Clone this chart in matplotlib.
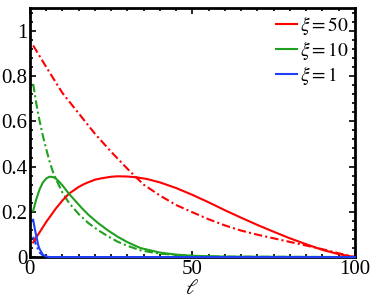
import matplotlib
matplotlib.use("Agg")
import matplotlib.pyplot as plt
from matplotlib.ticker import MultipleLocator

plt.rcParams['font.family'] = ['Liberation Serif', 'DejaVu Serif']
plt.rcParams['mathtext.fontset'] = 'stix'

# xi = 50
x_r = [1, 2, 3, 5, 8, 10, 12, 15, 17, 20, 22, 25, 27, 30, 33, 36, 40, 45, 50, 55, 60, 65, 70, 75, 80, 85, 90, 95, 100]
y_r = [0.065, 0.088, 0.11, 0.155, 0.215, 0.25, 0.28, 0.31, 0.325, 0.342, 0.348, 0.355, 0.357, 0.356, 0.352, 0.345, 0.33, 0.305, 0.275, 0.242, 0.207, 0.174, 0.142, 0.112, 0.083, 0.057, 0.032, 0.013, 0.0]
x_rd = [1, 5, 10, 15, 20, 25, 30, 35, 40, 45, 50, 55, 60, 65, 70, 75, 80, 85, 90, 95, 100]
y_rd = [0.935, 0.84, 0.725, 0.635, 0.545, 0.465, 0.39, 0.32, 0.272, 0.23, 0.198, 0.167, 0.14, 0.117, 0.099, 0.083, 0.067, 0.051, 0.035, 0.017, 0.0]
# xi = 10
x_g = [1, 2, 3, 4, 5, 6, 7, 8, 9, 10, 12, 14, 16, 18, 21, 24, 27, 30, 34, 40, 45, 50, 60, 100]
y_g = [0.205, 0.258, 0.30, 0.33, 0.347, 0.355, 0.354, 0.347, 0.333, 0.317, 0.28, 0.248, 0.216, 0.187, 0.15, 0.118, 0.09, 0.066, 0.04, 0.02, 0.011, 0.006, 0.002, 0.0]
x_gd = [1, 2, 3, 4, 5, 6, 7, 8, 10, 12, 15, 18, 21, 24, 27, 30, 34, 40, 50, 60, 100]
y_gd = [0.765, 0.675, 0.60, 0.535, 0.478, 0.425, 0.38, 0.345, 0.285, 0.24, 0.19, 0.15, 0.119, 0.092, 0.068, 0.05, 0.03, 0.015, 0.005, 0.002, 0.0]
# xi = 1
x_b = [1, 1.5, 2, 2.6, 3, 4, 5, 6, 100]
y_b = [0.165, 0.125, 0.09, 0.05, 0.035, 0.01, 0.003, 0.0, 0.0]
x_bd = [1, 2, 3, 4, 5, 6, 100]
y_bd = [0.09, 0.05, 0.02, 0.007, 0.002, 0.0, 0.0]

labels = [r'$\xi=50$', r'$\xi=10$', r'$\xi=1$']
red, green, blue = '#ff0000', '#1fa01f', '#1f3fff'

fig = plt.figure(figsize=(3.74, 3.0), dpi=100)
ax = fig.add_axes([0.080, 0.143, 0.869, 0.830])

lw = 1.5
dd = (4, 1.5, 1, 1.5)
ax.plot(x_rd, y_rd, color=red, lw=lw, dashes=dd)
ax.plot(x_gd, y_gd, color=green, lw=lw, dashes=dd)
ax.plot(x_bd, y_bd, color=blue, lw=lw, dashes=dd)
l1, = ax.plot(x_r, y_r, color=red, lw=lw)
l2, = ax.plot(x_g, y_g, color=green, lw=lw)
l3, = ax.plot(x_b, y_b, color=blue, lw=lw, clip_on=False, zorder=5)

ax.set_xlim(0, 100)
ax.set_ylim(0, 1.1)
ax.set_xticks([0, 50, 100])
ax.set_xticklabels(['0', '50', '100'])
ax.xaxis.set_minor_locator(MultipleLocator(5))
ax.set_yticks([0, 0.2, 0.4, 0.6, 0.8, 1.0])
ax.set_yticklabels(['0', '0.2', '0.4', '0.6', '0.8', '1'])
ax.yaxis.set_minor_locator(MultipleLocator(0.04))
ax.tick_params(which='both', direction='in', top=True, right=True, labelsize=15, pad=2)
ax.tick_params(which='major', length=4, width=1.2)
ax.tick_params(which='minor', length=2, width=1.2)
for s in ax.spines.values():
    s.set_linewidth(2)
ax.set_xlabel(r'$\ell$', fontsize=15, labelpad=1)

ax.legend([l1, l2, l3], labels, loc='upper right', frameon=False, fontsize=14,
          handlelength=1.1, handletextpad=0.15, labelspacing=0.1,
          borderaxespad=0.2, borderpad=0.1)

fig.savefig('out.png', dpi=100)
